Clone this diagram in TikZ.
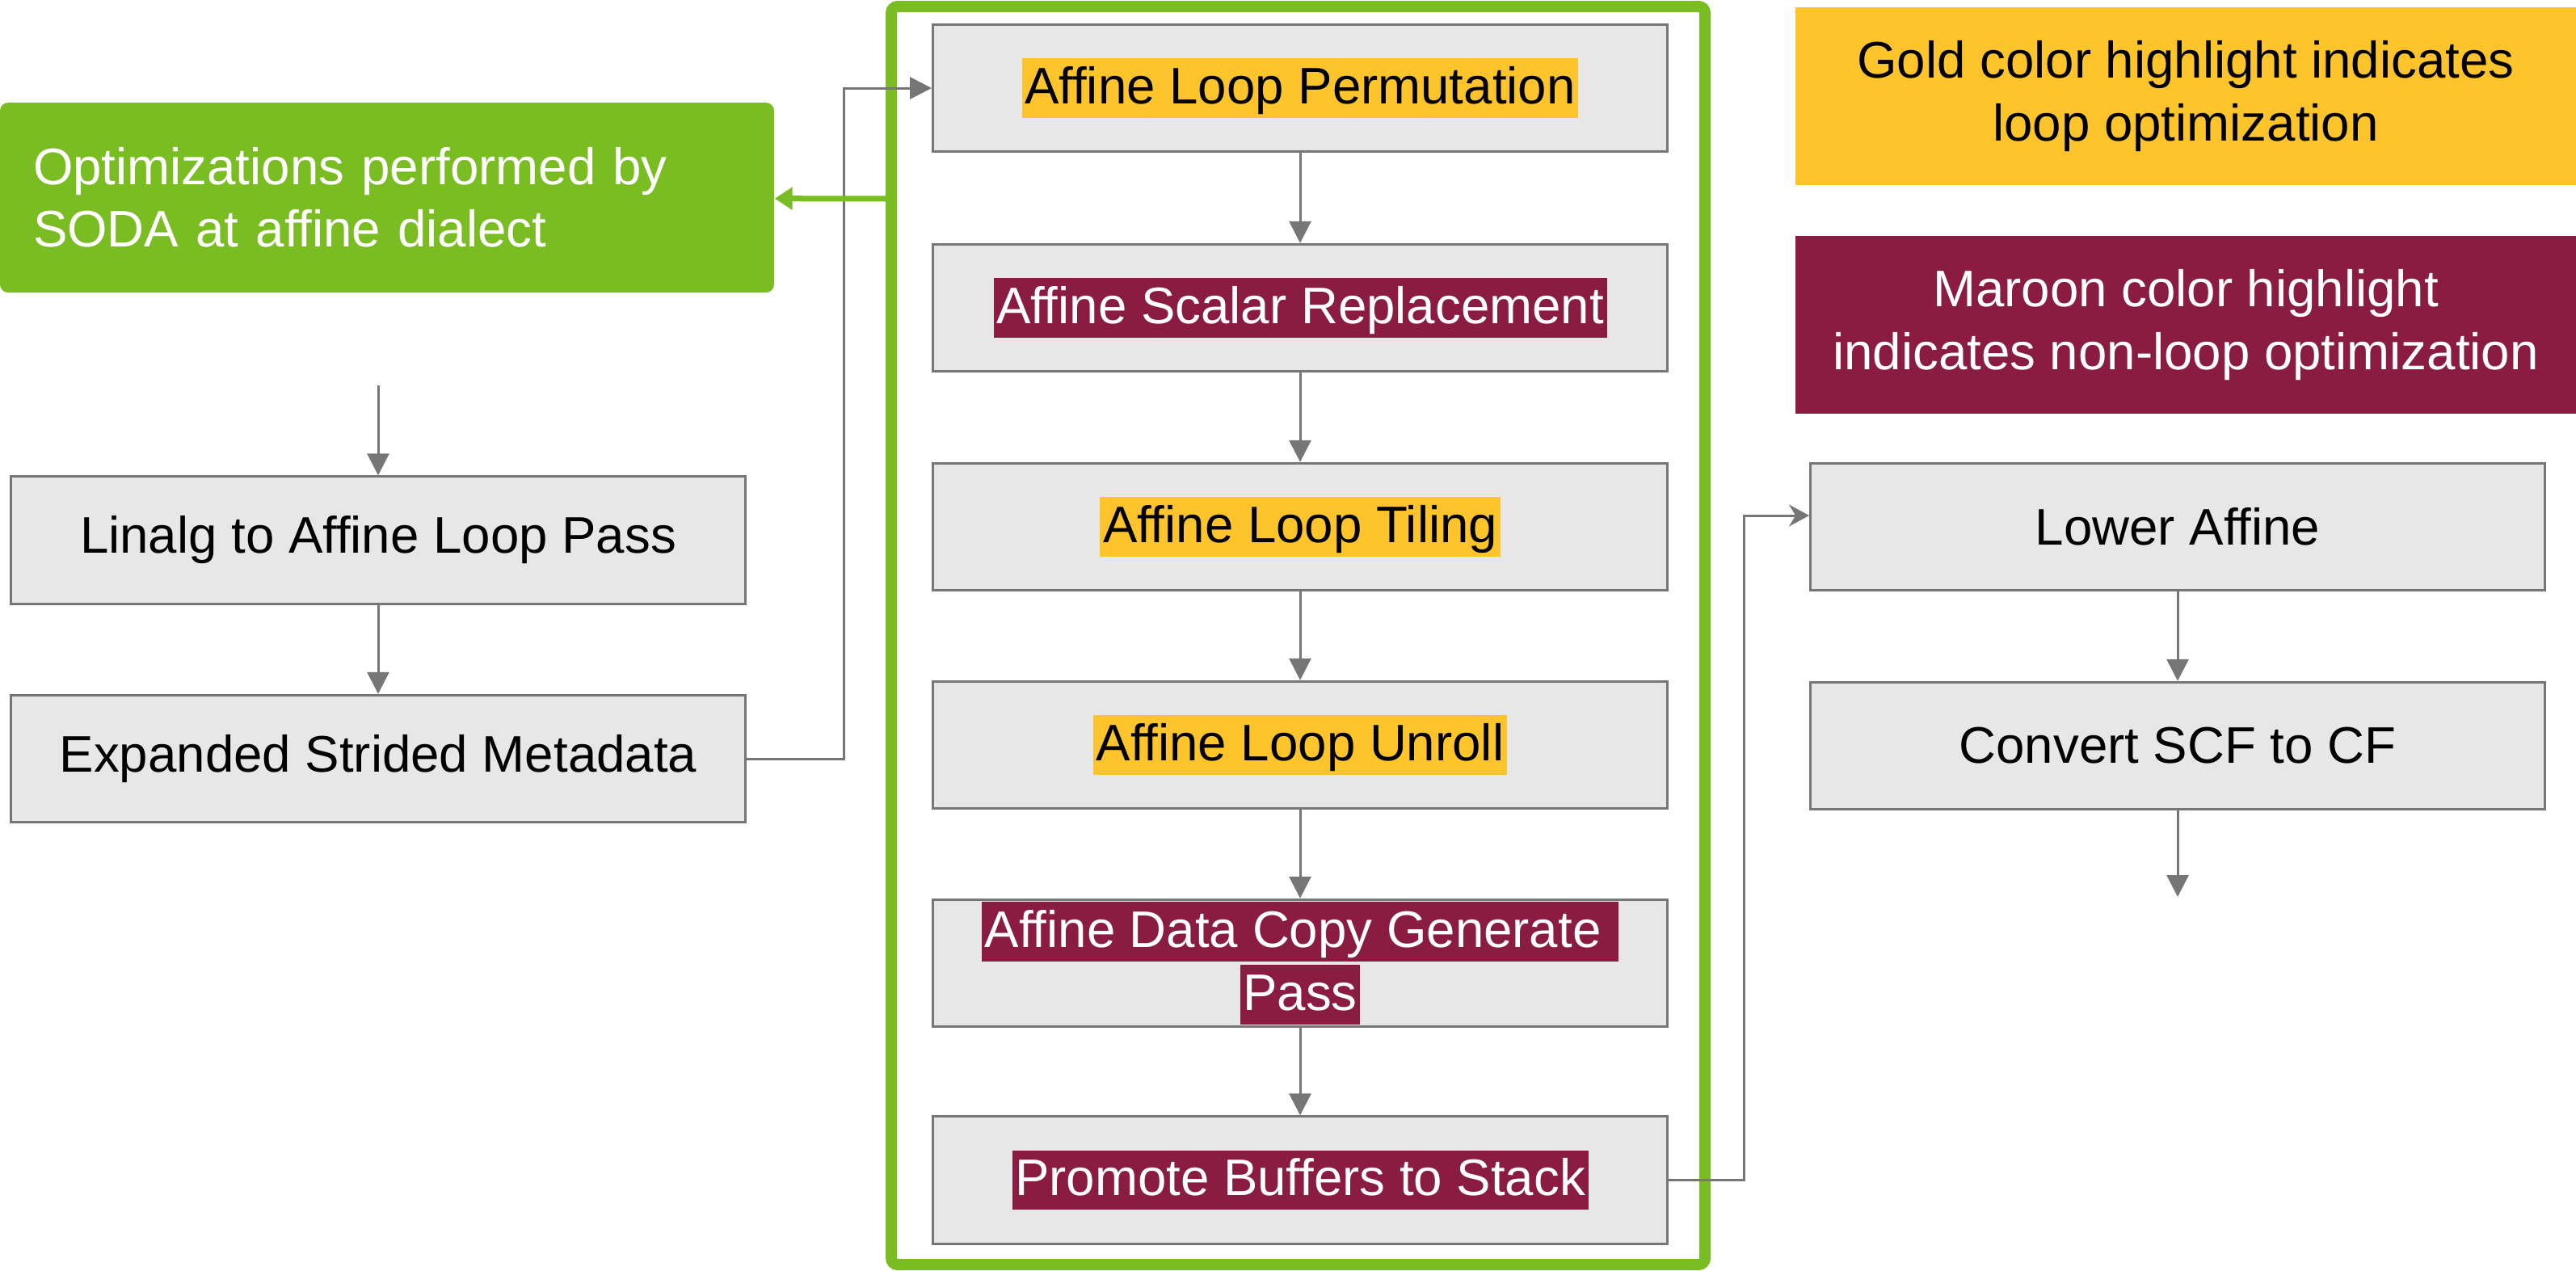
\documentclass[tikz,border=0pt]{standalone}
\usepackage{fontspec}
\setmainfont{Liberation Sans}
\usetikzlibrary{arrows.meta}
\definecolor{sodagreen}{HTML}{7ABD22}
\definecolor{gold}{HTML}{FDC52B}
\definecolor{maroon}{HTML}{8A1C41}
\definecolor{boxgray}{HTML}{E7E7E7}
\definecolor{linegray}{HTML}{767676}
\newcommand{\hlgold}[1]{{\setlength{\fboxsep}{1pt}\colorbox{gold}{\rule[-0.22em]{0pt}{1.05em}#1}}}
\newcommand{\hlmaroon}[1]{{\setlength{\fboxsep}{1pt}\colorbox{maroon}{\rule[-0.22em]{0pt}{1.05em}\textcolor{white}{#1}}}}
\begin{document}
\begin{tikzpicture}[font=\fontsize{18.1}{22}\selectfont,
  pass/.style={draw=linegray, line width=0.03cm, fill=boxgray, minimum width=9.09cm, minimum height=1.575cm, inner sep=0pt, align=center},
  legend/.style={minimum width=9.66cm, minimum height=2.2cm, inner sep=0pt, align=center},
  flow/.style={draw=linegray, line width=0.03cm, -{Triangle[length=0.27cm,width=0.27cm]}}]
\useasboundingbox (0,0) rectangle (31.88,-15.72);
\draw[sodagreen, line width=0.14cm, rounded corners=0.08cm] (11.03,-0.08) rectangle (21.10,-15.65);
\node[fill=sodagreen, text=white, rounded corners=0.1cm, minimum width=9.58cm, minimum height=2.35cm, inner xsep=0.41cm, inner ysep=0pt, text width=8.76cm, align=left] (soda) at (4.79,-2.445) {Optimizations performed by\\SODA at affine dialect};
\node[pass] (linalg) at (4.68,-6.685) {Linalg to Affine Loop Pass};
\node[pass] (strided) at (4.68,-9.39) {Expanded Strided Metadata};
\node[pass] (perm) at (16.09,-1.09) {\hlgold{Affine Loop Permutation}};
\node[pass] (scalar) at (16.09,-3.81) {\hlmaroon{Affine Scalar Replacement}};
\node[pass] (tiling) at (16.09,-6.52) {\hlgold{Affine Loop Tiling}};
\node[pass] (unroll) at (16.09,-9.22) {\hlgold{Affine Loop Unroll}};
\node[pass] (datacopy) at (16.09,-11.92) {\hlmaroon{Affine Data Copy Generate }\\\hlmaroon{Pass}};
\node[pass] (promote) at (16.09,-14.605) {\hlmaroon{Promote Buffers to Stack}};
\node[legend, fill=gold] (goldkey) at (27.05,-1.19) {Gold color highlight indicates\\loop optimization};
\node[legend, fill=maroon, text=white] (maroonkey) at (27.05,-4.02) {Maroon color highlight\\indicates non-loop optimization};
\node[pass] (lower) at (26.95,-6.52) {Lower Affine};
\node[pass] (scfcf) at (26.95,-9.23) {Convert SCF to CF};
\coordinate (linalgin) at (4.68,-4.77);
\coordinate (cfout) at (26.95,-11.1);
\coordinate (frameleft) at (11.03,-2.46);
\draw[flow] (linalgin) -- (linalg);
\draw[flow] (linalg) -- (strided);
\draw[flow] (strided.east) -- ++(1.20,0) |- (perm.west);
\foreach \a/\b in {perm/scalar, scalar/tiling, tiling/unroll, unroll/datacopy, datacopy/promote}
  \draw[flow] (\a) -- (\b);
\draw[linegray, line width=0.03cm, -{Stealth[length=0.25cm,width=0.27cm]}] (promote.east) -- ++(0.935,0) |- ([yshift=0.14cm]lower.west);
\draw[flow] (lower) -- (scfcf);
\draw[flow] (scfcf) -- (cfout);
\draw[sodagreen, line width=0.07cm, -{Triangle[length=0.22cm,width=0.27cm]}] (frameleft) -- (soda);
\end{tikzpicture}
\end{document}
